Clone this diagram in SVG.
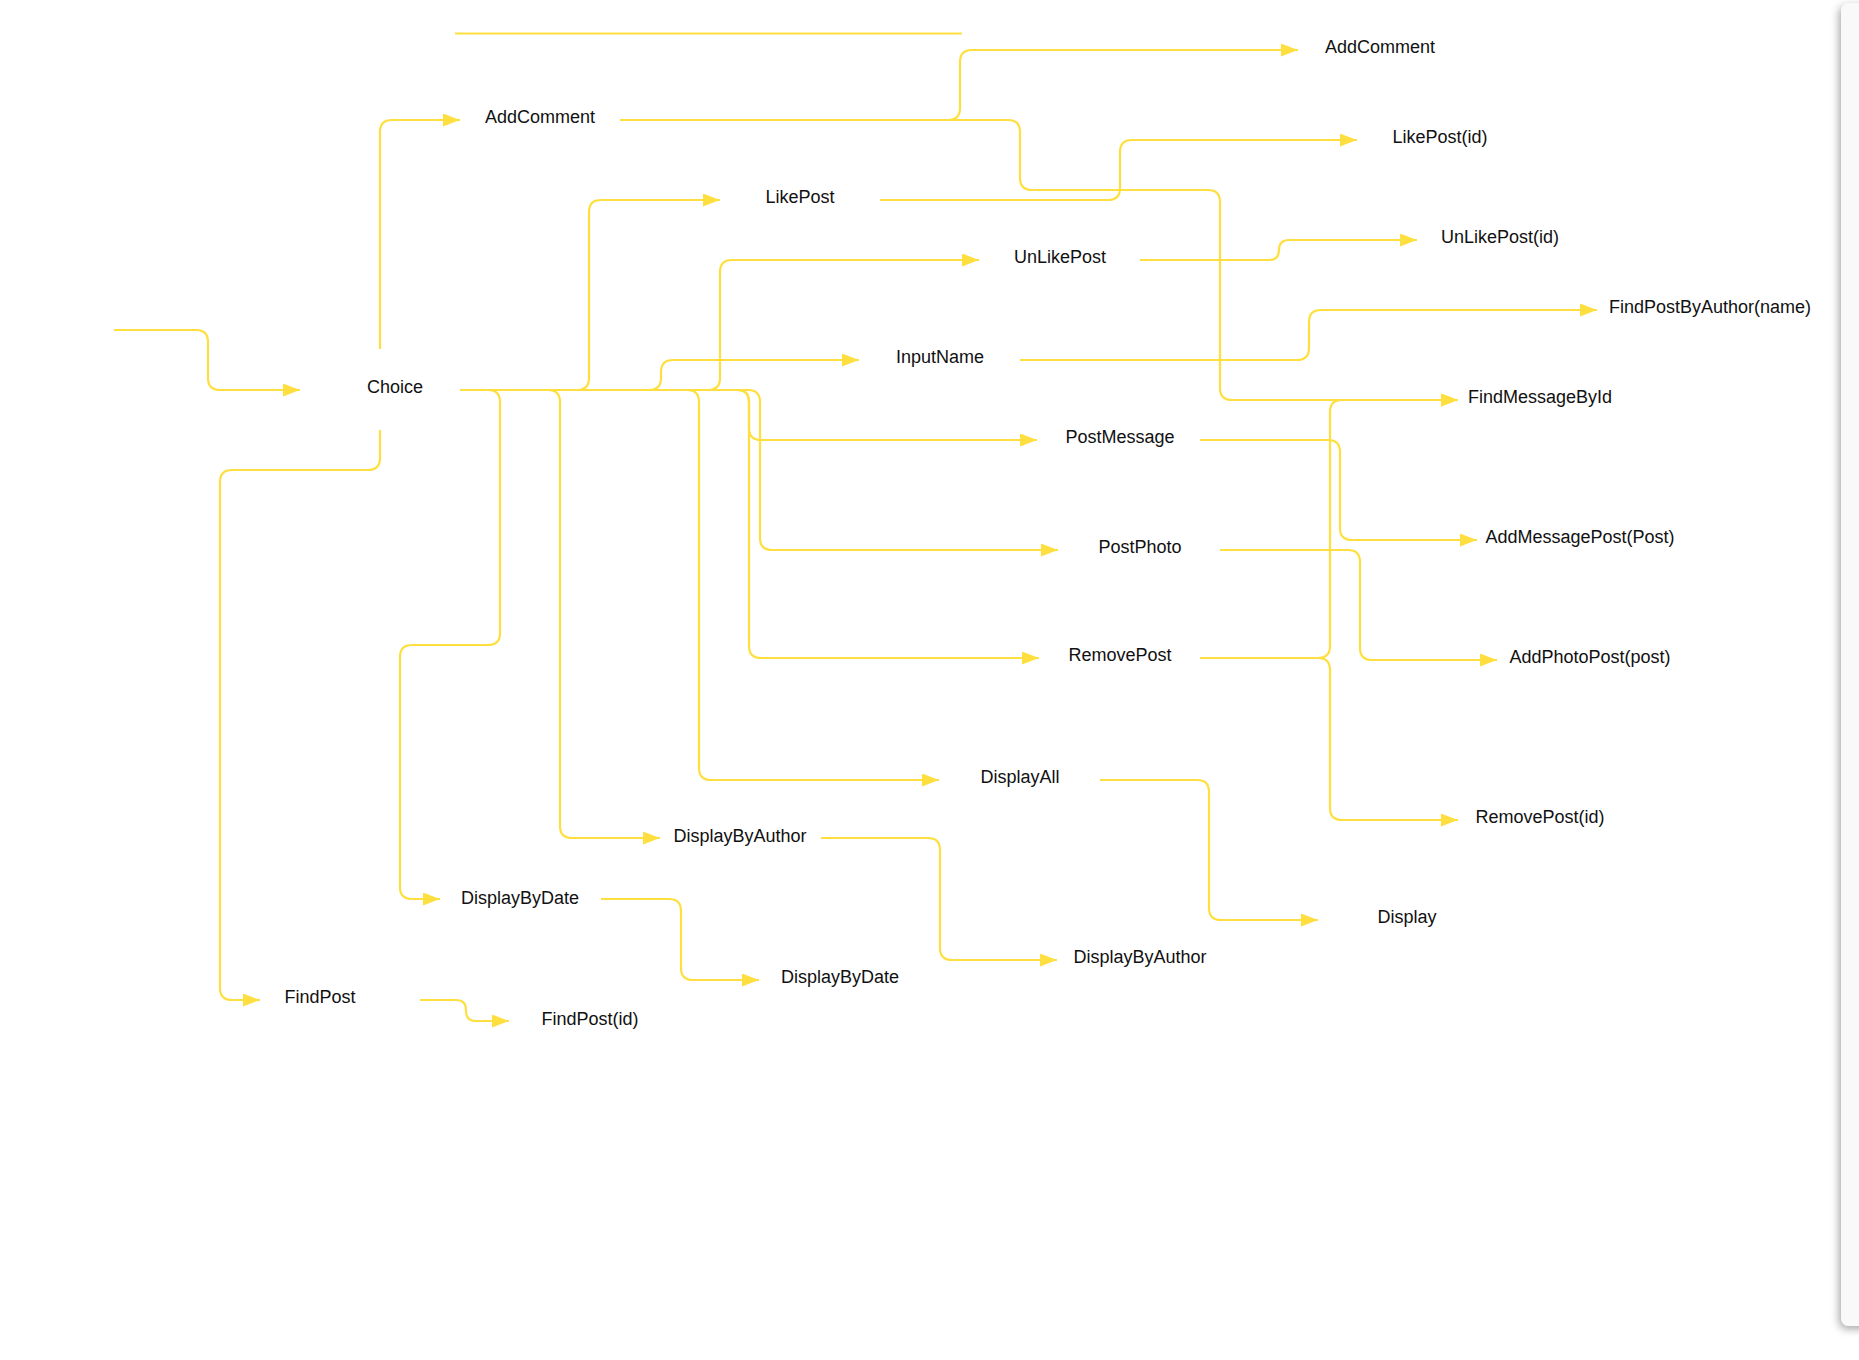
<svg xmlns="http://www.w3.org/2000/svg" width="1859" height="1360" viewBox="0 0 1859 1360">
<defs>
<style>
.c{fill:none;stroke:#FFDF3F;stroke-width:2.2;marker-end:url(#ah)}
.p{fill:none;stroke:#FFDF3F;stroke-width:2.2}
.t{font-family:"Liberation Sans",Arial,sans-serif;font-size:18px;fill:#111;text-anchor:middle}
</style>
<marker id="ah" markerUnits="userSpaceOnUse" markerWidth="18" markerHeight="13" refX="17" refY="6.5" orient="auto">
<path d="M0,0 L17,6.5 L0,13 z" fill="#FFDF3F"/>
</marker>
<filter id="sh" x="-50%" y="-5%" width="200%" height="110%">
<feDropShadow dx="-2" dy="3" stdDeviation="4" flood-color="#000" flood-opacity="0.35"/>
</filter>
</defs>
<rect x="0" y="0" width="1859" height="1360" fill="#fff"/>
<rect id="panel" x="1841" y="3" width="40" height="1323" rx="8" fill="#f9f9f9" filter="url(#sh)"/>
<g id="connectors">
<path class="p" d="M455 33.5 H962"/>
<path class="c" d="M114 330 H196 Q208 330 208 342 V378 Q208 390 220 390 H300"/>
<path class="c" d="M380 349 V132 Q380 120 392 120 H460"/>
<path class="c" d="M460 390 H577 Q589 390 589 378 V212 Q589 200 601 200 H720"/>
<path class="c" d="M460 390 H649 Q661 390 661 378 V372 Q661 360 673 360 H859"/>
<path class="c" d="M460 390 H708 Q720 390 720 378 V272 Q720 260 732 260 H979"/>
<path class="c" d="M460 390 H737 Q749 390 749 402 V428 Q749 440 761 440 H1037"/>
<path class="c" d="M460 390 H748 Q760 390 760 402 V538 Q760 550 772 550 H1058"/>
<path class="c" d="M460 390 H737 Q749 390 749 402 V646 Q749 658 761 658 H1039"/>
<path class="c" d="M460 390 H687 Q699 390 699 402 V768 Q699 780 711 780 H939"/>
<path class="c" d="M460 390 H548 Q560 390 560 402 V826 Q560 838 572 838 H660"/>
<path class="c" d="M460 390 H488 Q500 390 500 402 V633 Q500 645 488 645 H412 Q400 645 400 657 V887 Q400 899 412 899 H440"/>
<path class="c" d="M380 430 V458 Q380 470 368 470 H232 Q220 470 220 482 V988 Q220 1000 232 1000 H260"/>
<path class="c" d="M620 120 H948 Q960 120 960 108 V62 Q960 50 972 50 H1298"/>
<path class="c" d="M620 120 H1008 Q1020 120 1020 132 V178 Q1020 190 1032 190 H1208 Q1220 190 1220 202 V388 Q1220 400 1232 400 H1458"/>
<path class="c" d="M880 200 H1108 Q1120 200 1120 188 V152 Q1120 140 1132 140 H1357"/>
<path class="c" d="M1140 260 H1269 Q1279 260 1279 250 Q1279 240 1289 240 H1417"/>
<path class="c" d="M1020 360 H1297 Q1309 360 1309 348 V322 Q1309 310 1321 310 H1597"/>
<path class="c" d="M1200 440 H1328 Q1340 440 1340 452 V528 Q1340 540 1352 540 H1477"/>
<path class="c" d="M1220 550 H1348 Q1360 550 1360 562 V648 Q1360 660 1372 660 H1497"/>
<path class="c" d="M1200 658 H1318 Q1330 658 1330 646 V412 Q1330 400 1342 400 H1458"/>
<path class="c" d="M1200 658 H1318 Q1330 658 1330 670 V808 Q1330 820 1342 820 H1458"/>
<path class="c" d="M1100 780 H1197 Q1209 780 1209 792 V908 Q1209 920 1221 920 H1318"/>
<path class="c" d="M821 838 H928 Q940 838 940 850 V948 Q940 960 952 960 H1057"/>
<path class="c" d="M601 899 H669 Q681 899 681 911 V968 Q681 980 693 980 H759"/>
<path class="c" d="M420 1000 H456 Q466 1000 466 1010 V1011 Q466 1021 476 1021 H509"/>
</g>
<g id="n-choice"><text class="t" x="395" y="393">Choice</text></g>
<g id="n-addcomment"><text class="t" x="540" y="123">AddComment</text></g>
<g id="n-addcomment2"><text class="t" x="1380" y="53">AddComment</text></g>
<g id="n-likepost"><text class="t" x="800" y="203">LikePost</text></g>
<g id="n-likepostid"><text class="t" x="1440" y="143">LikePost(id)</text></g>
<g id="n-unlikepost"><text class="t" x="1060" y="263">UnLikePost</text></g>
<g id="n-unlikepostid"><text class="t" x="1500" y="243">UnLikePost(id)</text></g>
<g id="n-inputname"><text class="t" x="940" y="363">InputName</text></g>
<g id="n-findpostbyauthor"><text class="t" x="1710" y="313">FindPostByAuthor(name)</text></g>
<g id="n-findmessagebyid"><text class="t" x="1540" y="403">FindMessageById</text></g>
<g id="n-postmessage"><text class="t" x="1120" y="443">PostMessage</text></g>
<g id="n-addmessagepost"><text class="t" x="1580" y="543">AddMessagePost(Post)</text></g>
<g id="n-postphoto"><text class="t" x="1140" y="553">PostPhoto</text></g>
<g id="n-addphotopost"><text class="t" x="1590" y="663">AddPhotoPost(post)</text></g>
<g id="n-removepost"><text class="t" x="1120" y="661">RemovePost</text></g>
<g id="n-removepostid"><text class="t" x="1540" y="823">RemovePost(id)</text></g>
<g id="n-displayall"><text class="t" x="1020" y="783">DisplayAll</text></g>
<g id="n-display"><text class="t" x="1407" y="923">Display</text></g>
<g id="n-displaybyauthor"><text class="t" x="740" y="842">DisplayByAuthor</text></g>
<g id="n-displaybyauthor2"><text class="t" x="1140" y="963">DisplayByAuthor</text></g>
<g id="n-displaybydate"><text class="t" x="520" y="904">DisplayByDate</text></g>
<g id="n-displaybydate2"><text class="t" x="840" y="983">DisplayByDate</text></g>
<g id="n-findpost"><text class="t" x="320" y="1003">FindPost</text></g>
<g id="n-findpostid"><text class="t" x="590" y="1025">FindPost(id)</text></g>
</svg>
